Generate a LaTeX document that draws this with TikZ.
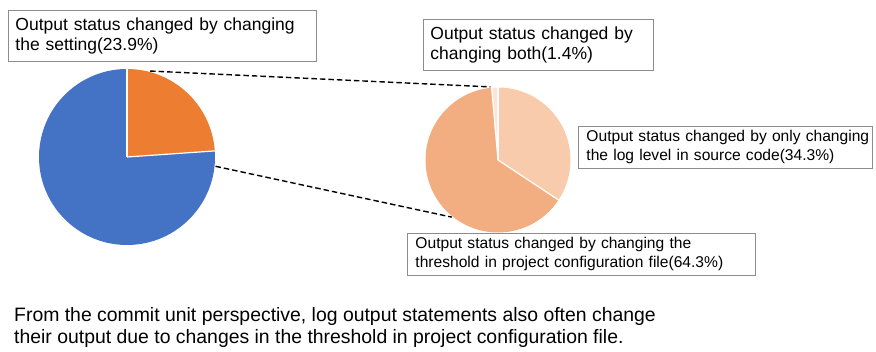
\documentclass[tikz,border=0pt]{standalone}
\usepackage{fontspec}
\setmainfont{Liberation Sans}
\definecolor{slblue}{HTML}{4472C4}
\definecolor{slorange}{HTML}{ED7D31}
\definecolor{slpeach}{HTML}{F2AE80}
\definecolor{sllight}{HTML}{F8CBAD}
\definecolor{slpale}{HTML}{FBE5D6}
\definecolor{boxgray}{HTML}{8C8C8C}
\tikzset{
  slice/.style={draw=white, line width=1.2pt},
  callout/.style={draw=boxgray, line width=0.9pt, anchor=north west, align=left,
    inner ysep=0pt, fill=white},
  bigtxt/.style={font=\fontsize{17.5}{19.5}\selectfont},
  smalltxt/.style={font=\fontsize{15.6}{19}\selectfont},
  zoomline/.style={black, line width=1.4pt, dash pattern=on 5.5pt off 3pt},
}
\begin{document}
\begin{tikzpicture}[x=1pt, y=1pt]
\useasboundingbox (0,0) rectangle (876,351);

% left pie
\coordinate (lc) at (127,194);
\fill[slblue] (lc) -- ++(3.96:88) arc[start angle=3.96, end angle=-270, radius=88] -- cycle;
\fill[slorange] (lc) -- ++(90:88) arc[start angle=90, end angle=3.96, radius=88] -- cycle;
\draw[slice] (lc) -- ++(90:88);
\draw[slice] (lc) -- ++(3.96:88);

% right pie
\coordinate (rc) at (498,191);
\fill[sllight] (rc) -- ++(90:72.5) arc[start angle=90, end angle=-33.48, radius=72.5] -- cycle;
\fill[slpeach] (rc) -- ++(-33.48:72.5) arc[start angle=-33.48, end angle=-264.96, radius=72.5] -- cycle;
\fill[slpale] (rc) -- ++(95.04:72.5) arc[start angle=95.04, end angle=90, radius=72.5] -- cycle;
\draw[slice] (rc) -- ++(90:72.5);
\draw[slice] (rc) -- ++(-33.48:72.5);
\draw[slice] (rc) -- ++(95.04:72.5);

% connector end points on the pie rims
\path (lc) ++(75:89) coordinate (la);
\path (lc) ++(-6:89) coordinate (lb);
\path (rc) ++(96:73.5) coordinate (ra);
\path (rc) ++(-129:73.5) coordinate (rb);
\draw[zoomline] (la) -- (ra);
\draw[zoomline] (lb) -- (rb);

% callouts
\node[callout, bigtxt, inner xsep=7pt, text width=294pt, minimum height=51pt] (setting) at (8,341)
  {\mbox{Output status changed by changing}\\\mbox{the setting(23.9\%)}};
\node[callout, bigtxt, inner xsep=7pt, text width=216pt, minimum height=51pt] (both) at (423,332)
  {\mbox{Output status changed by}\\\mbox{changing both(1.4\%)}};
\node[callout, smalltxt, inner xsep=8pt, text width=278pt, minimum height=42pt] (loglevel) at (578,225)
  {\mbox{Output status changed by only changing}\\\mbox{the log level in source code(34.3\%)}};
\node[callout, smalltxt, inner xsep=8pt, text width=332pt, minimum height=42pt] (threshold) at (407,118)
  {\mbox{Output status changed by changing the}\\\mbox{threshold in project configuration file(64.3\%)}};

% summary
\node[anchor=base west, inner sep=0pt, align=left, font=\fontsize{19.4}{21}\selectfont] (summary) at (14,8)
  {From the commit unit perspective, log output statements also often change\\their output due to changes in the threshold in project configuration file.};
\end{tikzpicture}
\end{document}
